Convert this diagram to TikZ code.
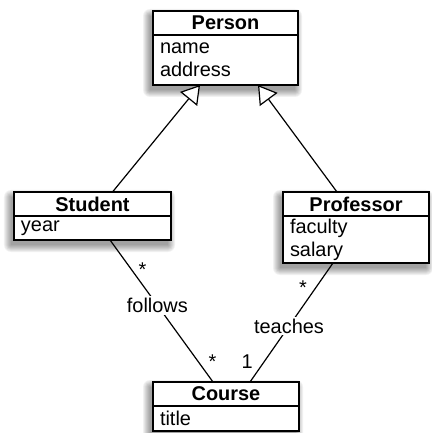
\documentclass[tikz,border=0pt]{standalone}
\usepackage{fontspec}
\setmainfont{Liberation Sans}
\usetikzlibrary{arrows.meta,calc,backgrounds}
\begin{document}
\begin{tikzpicture}[x=1bp, y=-1bp,
		font=\fontsize{20}{23}\selectfont,
		head/.style={draw, line width=1.5bp, fill=white, font=\fontsize{20}{23}\selectfont\bfseries,
			minimum height=24bp, inner sep=0pt, outer sep=0pt, anchor=north},
		body/.style={draw, line width=1.5bp, fill=white, align=left, inner xsep=7bp,
			inner ysep=0pt, outer sep=0pt, anchor=north},
		gen/.style={line width=1.2bp, -{Triangle[open, fill=white, length=18bp, width=22bp]}},
		assoc/.style={line width=1.2bp},
		lbl/.style={fill=white, inner sep=2bp},
		mult/.style={inner sep=0pt, yshift=-4bp}]
	\useasboundingbox (0,0) rectangle (431,433);

	% classes
	\node[head, minimum width=145bp] (person) at (225.5,11) {Person};
	\node[body, text width=131bp, minimum height=50bp] (personattr) at (person.south) {name\\address};

	\node[head, minimum width=157bp] (student) at (92.5,192) {Student};
	\node[body, text width=143bp, minimum height=24bp] (studentattr) at (student.south) {year};

	\node[head, minimum width=146bp] (professor) at (356,192) {Professor};
	\node[body, text width=132bp, minimum height=47bp] (professorattr) at (professor.south) {faculty\\salary};

	\node[head, minimum width=146bp] (course) at (226,382) {Course};
	\node[body, text width=132bp, minimum height=25bp] (courseattr) at (course.south) {title};

	% shadows
	\begin{scope}[on background layer]
		\foreach \c in {person, student, professor, course}
			\foreach \r in {0,...,7}
				\fill[black, opacity=0.055, rounded corners=\r bp]
					($(\c.north west)+(-3-\r,5-\r)$) rectangle ($(\c attr.south east)+(-3+\r,5+\r)$);
	\end{scope}

	% generalisations
	\draw[gen] ([xshift=20bp]student.north) -- ([xshift=-25.5bp]personattr.south);
	\draw[gen] ([xshift=-19bp]professor.north) -- ([xshift=32.5bp]personattr.south);

	% associations
	\draw[assoc] ([xshift=17.5bp]studentattr.south) --
		node[mult, pos=0.18, xshift=14bp] {*}
		node[lbl, pos=0.46] {follows}
		node[mult, pos=0.83, xshift=17bp] {*}
		([xshift=-13bp]course.north);
	\draw[assoc] ([xshift=-23bp]professorattr.south) --
		node[mult, pos=0.17, xshift=-16bp] {*}
		node[lbl, pos=0.53] {teaches}
		node[mult, pos=0.83, xshift=-17bp, yshift=4bp] {1}
		([xshift=24bp]course.north);
\end{tikzpicture}
\end{document}
